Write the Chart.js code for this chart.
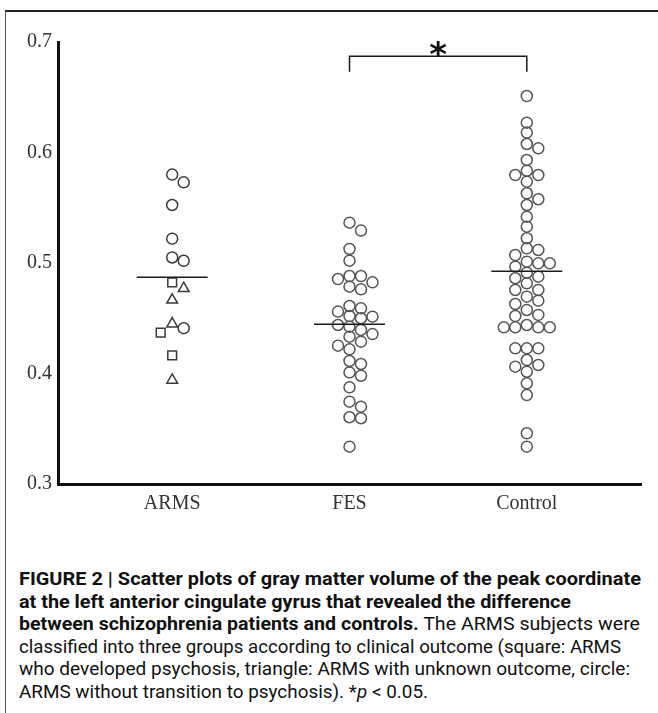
<!DOCTYPE html>
<html>
<head>
<meta charset="utf-8">
<script src="https://cdn.jsdelivr.net/npm/chart.js@4.4.0/dist/chart.umd.min.js"></script>
<style>
  html, body { margin: 0; padding: 0; background: #fff; width: 658px; height: 713px; overflow: hidden; }
  #frame { position: absolute; left: 5px; top: 10px; width: 700px; height: 720px; border-left: 1px solid #555; border-top: 2px solid #222; }
  #wrap { position: absolute; left: 0; top: 0; width: 658px; height: 530px; }
  #caption {
    position: absolute; left: 19px; top: 568px;
    font-family: "Liberation Sans Narrow", "Roboto", "Liberation Sans", sans-serif;
    font-size: 19px; line-height: 22.6px; color: #111;
  }
  #caption .ln { white-space: nowrap; height: 22.6px; }
  #caption .ln span { display: inline-block; transform-origin: 0 50%; }
  #caption b { font-weight: bold; }
</style>
</head>
<body>
<div id="frame"></div>
<div id="wrap"><canvas id="scatterChart"></canvas></div>
<div id="caption">
  <div class="ln" data-w="622"><span><b>FIGURE 2 | Scatter plots of gray matter volume of the peak coordinate</b></span></div>
  <div class="ln" data-w="552"><span><b>at the left anterior cingulate gyrus that revealed the difference</b></span></div>
  <div class="ln" data-w="621"><span><b>between schizophrenia patients and controls.</b> The ARMS subjects were</span></div>
  <div class="ln" data-w="602"><span>classified into three groups according to clinical outcome (square: ARMS</span></div>
  <div class="ln" data-w="611"><span>who developed psychosis, triangle: ARMS with unknown outcome, circle:</span></div>
  <div class="ln" data-w="409"><span>ARMS without transition to psychosis). *<i>p</i> &lt; 0.05.</span></div>
</div>
<script>
// Grupos e valores
const categories = ['ARMS', 'FES', 'Control'];
const yTicks = [0.3, 0.4, 0.5, 0.6, 0.7];

// ARMS separado pelo desfecho clínico
const armsCircle = [0.580, 0.573, 0.5525, 0.522, 0.505, 0.502, 0.441];
const armsSquare = [0.4825, 0.437, 0.4165];
const armsTriangle = [0.477, 0.4665, 0.445, 0.394];

const fesValues = [
  0.5365, 0.5293, 0.5127, 0.5021, 0.4855, 0.4882, 0.4882, 0.4825, 0.4786, 0.4762,
  0.4611, 0.459, 0.456, 0.452, 0.4514, 0.450, 0.4439, 0.4424, 0.4394, 0.4357,
  0.4333, 0.4288, 0.4252, 0.4219, 0.4113, 0.4086, 0.401, 0.398, 0.3875, 0.3745,
  0.370, 0.3604, 0.3595, 0.3338
];

const controlValues = [
  0.6511, 0.627, 0.618, 0.6077, 0.6038, 0.5932, 0.5796, 0.5835, 0.5796, 0.5736,
  0.5631, 0.5577, 0.5525, 0.5419, 0.5329, 0.5224, 0.5133, 0.5118, 0.5072, 0.5012,
  0.4997, 0.4997, 0.4967, 0.4912, 0.4876, 0.4862, 0.4816, 0.4756, 0.4756, 0.4695,
  0.4659, 0.4629, 0.4575, 0.453, 0.452, 0.4439, 0.4418, 0.4418, 0.4418, 0.4418,
  0.4228, 0.4228, 0.4228, 0.4122, 0.4062, 0.4077, 0.4016, 0.3911, 0.3805, 0.3459,
  0.3338
];

// Médias desenhadas (linhas horizontais)
const groupMeans = [0.487, 0.4445, 0.4925];

// Comparação significativa FES x Control
const sigPair = [1, 2];
const sigLevel = 0.687;
const sigDrop = 0.014;
const sigLabel = '*';

const pointColor = '#555';
const lineColor = '#1a1a1a';

function toPoints(values, cat) {
    return values.map(v => ({ x: cat, y: v }));
}

function pointSet(label, values, cat, style, radius, color) {
    return {
        type: 'scatter',
        label: label,
        group: cat,
        data: toPoints(values, cat),
        pointStyle: style,
        pointRadius: radius,
        pointBorderWidth: 1.5,
        borderColor: color,
        pointBorderColor: color,
        backgroundColor: 'rgba(0,0,0,0)',
        pointBackgroundColor: 'rgba(0,0,0,0)',
        order: 2
    };
}

const datasets = [
    pointSet('ARMS circle', armsCircle, 0, 'circle', 5.5, '#3a3a3a'),
    pointSet('ARMS square', armsSquare, 0, 'rect', 6.2, '#3a3a3a'),
    pointSet('ARMS triangle', armsTriangle, 0, 'triangle', 6.2, '#3a3a3a'),
    pointSet('FES', fesValues, 1, 'circle', 5.5, pointColor),
    pointSet('Control', controlValues, 2, 'circle', 5.5, pointColor)
];

// linhas de média
groupMeans.forEach((m, i) => {
    datasets.push({
        type: 'line',
        label: 'mean ' + categories[i],
        data: [{ x: i - 0.2, y: m }, { x: i + 0.2, y: m }],
        borderColor: lineColor,
        borderWidth: 1.5,
        pointRadius: 0,
        fill: false,
        order: 1
    });
});

// colchete de significância
datasets.push({
    type: 'line',
    label: 'bracket',
    data: [
        { x: sigPair[0], y: sigLevel - sigDrop },
        { x: sigPair[0], y: sigLevel },
        { x: sigPair[1], y: sigLevel },
        { x: sigPair[1], y: sigLevel - sigDrop }
    ],
    borderColor: lineColor,
    borderWidth: 1.5,
    pointRadius: 0,
    fill: false,
    order: 1
});

// Asterisco acima do colchete
const sigStarPlugin = {
    id: 'sigStar',
    afterDatasetsDraw(chart) {
        const ctx = chart.ctx;
        const xs = chart.scales.x, ys = chart.scales.y;
        const cx = xs.getPixelForValue((sigPair[0] + sigPair[1]) / 2);
        const cy = ys.getPixelForValue(sigLevel);
        ctx.save();
        ctx.fillStyle = '#111';
        ctx.font = 'bold 34px "DejaVu Sans"';
        ctx.textAlign = 'center';
        ctx.textBaseline = 'alphabetic';
        ctx.fillText(sigLabel, cx, cy + 10);
        ctx.restore();
    }
};

// Espalha os pontos de cada grupo em colunas (beeswarm simples)
function swarmPoints(chart) {
    const xs = chart.scales.x, ys = chart.scales.y;
    const unit = xs.getPixelForValue(1) - xs.getPixelForValue(0);
    const step = 11.5;
    const gap = 9.6;
    const order = [0, 1, -1, 2, -2, 3, -3, 4, -4];
    categories.forEach((c, cat) => {
        const pts = [];
        chart.data.datasets.forEach(ds => {
            if (ds.type !== 'scatter' || ds.group !== cat) return;
            ds.data.forEach(p => pts.push(p));
        });
        pts.sort((a, b) => b.y - a.y);
        const placed = [];
        pts.forEach(p => {
            const py = ys.getPixelForValue(p.y);
            let col = 0;
            for (const k of order) {
                if (placed.every(q => q.col !== k || Math.abs(q.py - py) >= gap)) { col = k; break; }
            }
            placed.push({ col: col, py: py });
            p.x = cat + col * step / unit;
        });
    });
}

const serif = { family: '"Liberation Serif", "Times New Roman", serif', size: 20 };

const chart = new Chart(document.getElementById('scatterChart'), {
    type: 'scatter',
    data: { datasets: datasets },
    options: {
        responsive: true,
        maintainAspectRatio: false,
        animation: false,
        layout: { padding: { left: 0, right: 17, top: 42, bottom: 0 } },
        plugins: {
            legend: { display: false },
            tooltip: { enabled: false }
        },
        scales: {
            x: {
                type: 'linear',
                min: -0.644,
                max: 2.644,
                grid: { display: false, drawTicks: false },
                border: { display: true, width: 3, color: '#111' },
                afterBuildTicks: ax => { ax.ticks = categories.map((c, i) => ({ value: i })); },
                afterFit: ax => { ax.height = 46; },
                ticks: {
                    padding: 8,
                    color: '#333',
                    font: serif,
                    callback: v => categories[Math.round(v)]
                }
            },
            y: {
                min: 0.3,
                max: 0.7,
                grid: { display: false, drawTicks: false },
                border: { display: true, width: 3, color: '#111' },
                afterBuildTicks: ax => { ax.ticks = yTicks.map(v => ({ value: v })); },
                afterFit: ax => { ax.width = 58; },
                ticks: {
                    padding: 6,
                    color: '#333',
                    font: serif,
                    callback: v => v.toFixed(1)
                }
            }
        }
    },
    plugins: [sigStarPlugin]
});

swarmPoints(chart);
chart.update('none');

// ajusta cada linha da legenda à largura medida na figura
document.querySelectorAll('#caption .ln').forEach(ln => {
    const span = ln.querySelector('span');
    const w = span.getBoundingClientRect().width;
    const target = parseFloat(ln.dataset.w);
    if (w > 0) span.style.transform = 'scaleX(' + (target / w) + ')';
});
</script>
</body>
</html>
